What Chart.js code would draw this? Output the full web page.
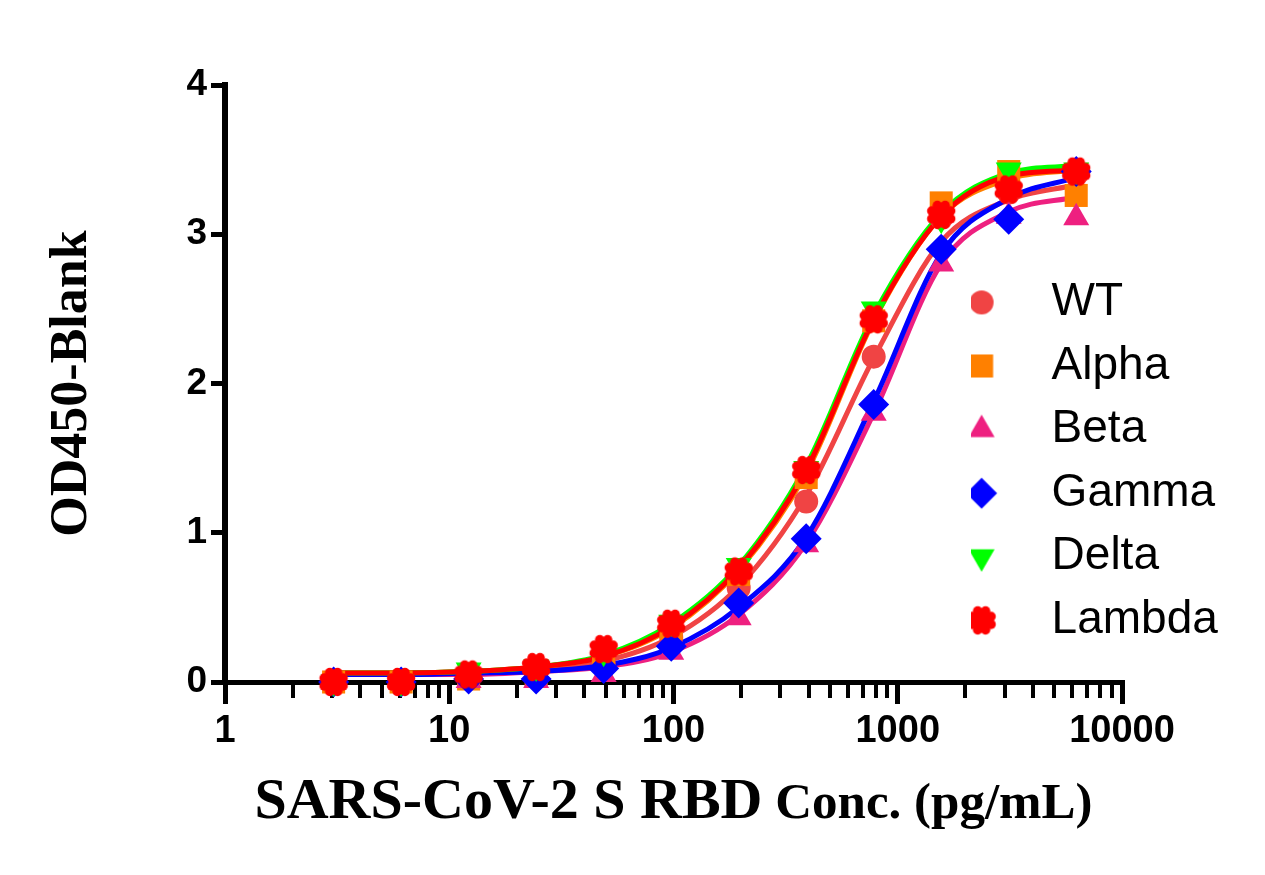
<!DOCTYPE html>
<html>
<head>
<meta charset="utf-8">
<script src="https://cdn.jsdelivr.net/npm/chart.js@4.4.1/dist/chart.umd.min.js"></script>
<style>
  html, body { margin: 0; padding: 0; background: #ffffff; }
  #wrap { width: 1265px; height: 875px; position: relative; }
</style>
</head>
<body>
<div id="wrap"><canvas id="c" width="1265" height="875"></canvas></div>
<script>
// ---------------- data ----------------
const concentrations = [3.05, 6.1, 12.2, 24.4, 48.8, 97.7, 195.3, 390.6, 781.3, 1562.5, 3125, 6250];
const seriesNames = ['WT', 'Alpha', 'Beta', 'Gamma', 'Delta', 'Lambda'];

// measured points
const wtPoints     = [0.00, 0.00, 0.03, 0.06, 0.13, 0.30, 0.63, 1.21, 2.18, 3.11, 3.28, 3.40];
const alphaPoints  = [0.00, 0.00, 0.02, 0.05, 0.17, 0.36, 0.72, 1.37, 2.42, 3.21, 3.42, 3.26];
const betaPoints   = [0.00, 0.00, 0.01, 0.01, 0.05, 0.20, 0.43, 0.92, 1.80, 2.80, 3.12, 3.11];
const gammaPoints  = [0.00, 0.00, 0.02, 0.02, 0.09, 0.24, 0.53, 0.96, 1.86, 2.90, 3.10, 3.42];
const deltaPoints  = [0.00, 0.00, 0.08, 0.10, 0.20, 0.40, 0.78, 1.43, 2.50, 3.10, 3.43, 3.43];
const lambdaPoints = [0.00, 0.00, 0.05, 0.10, 0.22, 0.39, 0.74, 1.42, 2.43, 3.13, 3.30, 3.42];

// fitted curves at each concentration
const wtCurve     = [0.06, 0.06, 0.07, 0.09, 0.14, 0.30, 0.64, 1.25, 2.17, 2.95, 3.23, 3.33];
const alphaCurve  = [0.06, 0.06, 0.07, 0.10, 0.17, 0.36, 0.75, 1.40, 2.42, 3.12, 3.37, 3.43];
const betaCurve   = [0.05, 0.05, 0.05, 0.07, 0.10, 0.20, 0.45, 0.93, 1.80, 2.80, 3.15, 3.25];
const gammaCurve  = [0.05, 0.05, 0.06, 0.07, 0.11, 0.23, 0.50, 0.97, 1.88, 2.87, 3.24, 3.38];
const deltaCurve  = [0.06, 0.06, 0.07, 0.10, 0.18, 0.39, 0.78, 1.45, 2.46, 3.14, 3.41, 3.46];
const lambdaCurve = [0.06, 0.06, 0.07, 0.10, 0.17, 0.37, 0.76, 1.42, 2.43, 3.12, 3.39, 3.43];

// axis ticks
const xMajorTicks = [1, 10, 100, 1000, 10000];
const xMinorMultipliers = [2, 3, 4, 5, 6, 7, 8, 9];
const yTicks = [0, 1, 2, 3, 4];

const xTitleMain = 'SARS-CoV-2 S RBD';
const xTitleUnit = ' Conc. (pg/mL)';
const yTitle = 'OD450-Blank';

// ---------------- styles ----------------
const seriesColors = ['#F04444', '#FF8000', '#EE2080', '#0000FF', '#00FF00', '#FF0000'];
const seriesShapes = ['circle', 'rect', 'triangle', 'rectRot', 'triangleDown', 'flower'];
const seriesRadius = [12, 16.3, 15, 15.5, 15, 15];

const pointsList = [wtPoints, alphaPoints, betaPoints, gammaPoints, deltaPoints, lambdaPoints];
const curvesList = [wtCurve, alphaCurve, betaCurve, gammaCurve, deltaCurve, lambdaCurve];

function drawShape(ctx, shape, cx, cy, r, color) {
  ctx.fillStyle = color;
  ctx.beginPath();
  if (shape === 'circle') {
    ctx.arc(cx, cy, r, 0, Math.PI * 2);
  } else if (shape === 'rect') {
    const s = r * Math.SQRT1_2;
    ctx.rect(cx - s, cy - s, 2 * s, 2 * s);
  } else if (shape === 'triangle') {
    ctx.moveTo(cx, cy - r);
    ctx.lineTo(cx + r * 0.8660254, cy + r * 0.5);
    ctx.lineTo(cx - r * 0.8660254, cy + r * 0.5);
    ctx.closePath();
  } else if (shape === 'triangleDown') {
    ctx.moveTo(cx, cy + r);
    ctx.lineTo(cx + r * 0.8660254, cy - r * 0.5);
    ctx.lineTo(cx - r * 0.8660254, cy - r * 0.5);
    ctx.closePath();
  } else if (shape === 'rectRot') {
    ctx.moveTo(cx - r, cy);
    ctx.lineTo(cx, cy - r);
    ctx.lineTo(cx + r, cy);
    ctx.lineTo(cx, cy + r);
    ctx.closePath();
  } else if (shape === 'flower') {
    ctx.arc(cx, cy, r * 0.64, 0, Math.PI * 2);
    ctx.fill();
    for (let k = 0; k < 8; k++) {
      const a = k * Math.PI / 4 + Math.PI / 8;
      ctx.beginPath();
      ctx.arc(cx + Math.cos(a) * r * 0.68, cy + Math.sin(a) * r * 0.68, r * 0.32, 0, Math.PI * 2);
      ctx.fill();
    }
    return;
  }
  ctx.fill();
}

function makeFlowerCanvas(r, color) {
  const c = document.createElement('canvas');
  const size = Math.ceil(2 * r + 2);
  c.width = size; c.height = size;
  drawShape(c.getContext('2d'), 'flower', size / 2, size / 2, r, color);
  return c;
}

// legend marker canvases: marker offset left of the image centre so that
// the gap between marker and text matches the reference
const LEGEND_IMG_W = 88, LEGEND_IMG_H = 40, LEGEND_MARK_X = 17;
function makeLegendCanvas(shape, r, color) {
  const c = document.createElement('canvas');
  c.width = LEGEND_IMG_W; c.height = LEGEND_IMG_H;
  drawShape(c.getContext('2d'), shape, LEGEND_MARK_X, LEGEND_IMG_H / 2, r, color);
  return c;
}

const lambdaPointCanvas = makeFlowerCanvas(15, seriesColors[5]);
const legendCanvases = seriesShapes.map((s, i) => makeLegendCanvas(s, seriesRadius[i], seriesColors[i]));

function chartPointStyle(i) {
  const s = seriesShapes[i];
  if (s === 'flower') return lambdaPointCanvas;
  if (s === 'triangleDown') return 'triangle';
  return s;
}

// ---------------- datasets ----------------
const datasets = [];
// points first (indexes 0..5, legend entries)
seriesNames.forEach((name, i) => {
  datasets.push({
    label: name,
    data: concentrations.map((c, k) => ({ x: c, y: pointsList[i][k] })),
    showLine: false,
    pointStyle: chartPointStyle(i),
    pointRotation: seriesShapes[i] === 'triangleDown' ? 180 : 0,
    pointRadius: seriesRadius[i],
    pointHoverRadius: seriesRadius[i],
    pointBackgroundColor: seriesColors[i],
    pointBorderColor: seriesColors[i],
    pointBorderWidth: 0,
    backgroundColor: seriesColors[i],
    borderColor: seriesColors[i],
    clip: false,
    order: 5 - i
  });
});
// fitted curves (indexes 6..11)
seriesNames.forEach((name, i) => {
  datasets.push({
    label: name + ' fit',
    data: concentrations.map((c, k) => ({ x: c, y: curvesList[i][k] })),
    borderColor: seriesColors[i],
    backgroundColor: seriesColors[i],
    borderWidth: 5,
    pointRadius: 0,
    pointHoverRadius: 0,
    fill: false,
    tension: 0.4,
    cubicInterpolationMode: 'monotone',
    clip: false,
    order: 11 - i
  });
});

// ---------------- ticks ----------------
const xAllTicks = [];
xMajorTicks.forEach((m, idx) => {
  xAllTicks.push(m);
  if (idx < xMajorTicks.length - 1) xMinorMultipliers.forEach(k => xAllTicks.push(m * k));
});
const isMajor = v => xMajorTicks.some(m => Math.abs(m - v) < 1e-9);

// ---------------- plugins ----------------
const legendPlacement = {
  id: 'legendPlacement',
  afterLayout(chart) {
    const lg = chart.legend;
    if (!lg) return;
    lg.left = 971;
    lg.top = 261.8;
    lg.right = lg.left + lg.width;
    lg.bottom = lg.top + 600;
  }
};

const xAxisTitle = {
  id: 'xAxisTitle',
  afterDraw(chart) {
    const { ctx, chartArea } = chart;
    ctx.save();
    const f1 = 'bold 58px "Liberation Serif"';
    const f2 = 'bold 51px "Liberation Serif"';
    ctx.font = f1;
    const w1 = ctx.measureText(xTitleMain).width;
    ctx.font = f2;
    const w2 = ctx.measureText(xTitleUnit).width;
    const x0 = (chartArea.left + chartArea.right) / 2 - (w1 + w2) / 2;
    ctx.fillStyle = '#000000';
    ctx.textAlign = 'left';
    ctx.textBaseline = 'alphabetic';
    ctx.font = f1;
    ctx.fillText(xTitleMain, x0, 818);
    ctx.font = f2;
    ctx.fillText(xTitleUnit, x0 + w1, 818);
    ctx.restore();
  }
};

// ---------------- chart ----------------
new Chart(document.getElementById('c'), {
  type: 'line',
  data: { datasets },
  options: {
    responsive: false,
    maintainAspectRatio: false,
    animation: false,
    events: [],
    layout: { padding: { left: 0, top: 85, right: 143, bottom: 0 } },
    plugins: {
      tooltip: { enabled: false },
      title: { display: false },
      legend: {
        display: true,
        position: 'chartArea',
        align: 'start',
        labels: {
          usePointStyle: true,
          boxWidth: 40,
          boxHeight: 20,
          padding: 17.6,
          color: '#000000',
          font: { family: '"Liberation Sans", Arial, sans-serif', size: 46, weight: 'normal' },
          filter: (item) => item.datasetIndex < seriesNames.length,
          sort: (a, b) => a.datasetIndex - b.datasetIndex,
          generateLabels(chart) {
            const items = Chart.defaults.plugins.legend.labels.generateLabels(chart);
            items.forEach(it => {
              if (it.datasetIndex < seriesNames.length) {
                it.pointStyle = legendCanvases[it.datasetIndex];
                it.rotation = 0;
              }
            });
            return items;
          }
        }
      }
    },
    scales: {
      x: {
        type: 'logarithmic',
        position: 'bottom',
        min: xMajorTicks[0],
        max: xMajorTicks[xMajorTicks.length - 1],
        afterBuildTicks(scale) { scale.ticks = xAllTicks.map(v => ({ value: v })); },
        afterFit(scale) { scale.height = 193; },
        ticks: {
          autoSkip: false,
          maxRotation: 0,
          minRotation: 0,
          padding: 5,
          color: '#000000',
          font: { family: '"Liberation Sans", Arial, sans-serif', size: 38, weight: 'bold' },
          callback: (v) => isMajor(v) ? String(v) : ''
        },
        grid: {
          display: true,
          drawOnChartArea: false,
          drawTicks: true,
          tickLength: 22,
          lineWidth: (c) => (c.tick && isMajor(c.tick.value)) ? 5 : 4,
          tickWidth: (c) => (c.tick && isMajor(c.tick.value)) ? 5 : 4,
          tickColor: '#000000',
          color: '#000000',
          tickBorderDash: (c) => (c.tick && isMajor(c.tick.value)) ? [] : [13, 100]
        },
        border: { display: true, color: '#000000', width: 5 },
        title: { display: false }
      },
      y: {
        type: 'linear',
        position: 'left',
        min: yTicks[0],
        max: yTicks[yTicks.length - 1],
        afterBuildTicks(scale) { scale.ticks = yTicks.map(v => ({ value: v })); },
        afterFit(scale) { scale.width = 225; },
        ticks: {
          padding: 4,
          color: '#000000',
          font: { family: '"Liberation Sans", Arial, sans-serif', size: 37, weight: 'bold' },
          callback: (v) => String(v)
        },
        grid: {
          display: true,
          drawOnChartArea: false,
          drawTicks: true,
          tickLength: 14,
          tickWidth: 5,
          lineWidth: 5,
          tickColor: '#000000',
          color: '#000000'
        },
        border: { display: true, color: '#000000', width: 6 },
        title: {
          display: true,
          text: yTitle,
          color: '#000000',
          font: { family: '"Liberation Serif", "Times New Roman", serif', size: 52, weight: 'bold' },
          padding: { top: 41, bottom: 0 }
        }
      }
    }
  },
  plugins: [legendPlacement, xAxisTitle]
});
</script>
</body>
</html>
